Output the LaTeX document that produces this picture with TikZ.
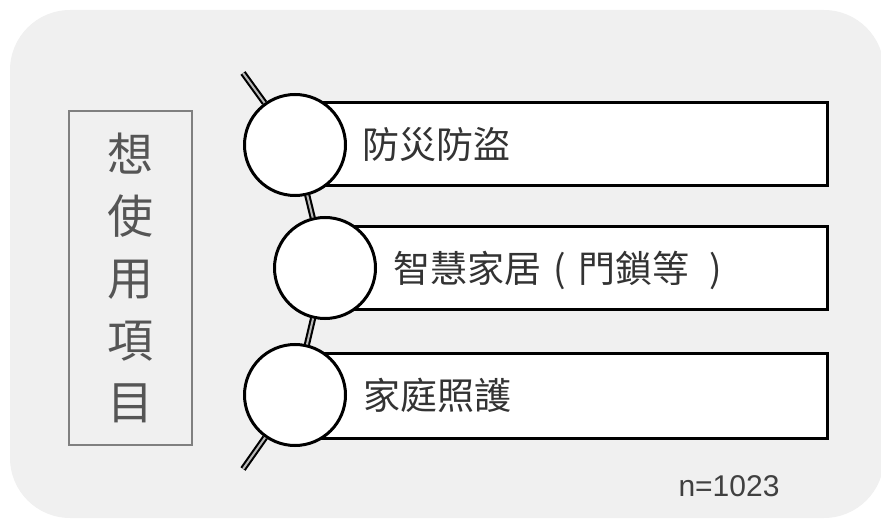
\documentclass[tikz,border=0pt]{standalone}
\usepackage{fontspec}
\newfontfamily\cjk{Noto Sans CJK TC}
\newfontfamily\latin{Liberation Sans}
\definecolor{bgc}{HTML}{F0F0F0}
\definecolor{txtc}{HTML}{333333}
\definecolor{vtxt}{HTML}{555555}
\definecolor{vbox}{HTML}{808080}
\definecolor{ntxt}{HTML}{404040}
\begin{document}
\begin{tikzpicture}[x=1pt,y=-1pt,
  itembox/.style={draw=black,line width=3pt,fill=white,rectangle,inner sep=0pt},
  bead/.style={draw=black,line width=3pt,fill=white,circle,minimum size=101pt,inner sep=0pt},
  spine/.style={draw=black,line width=2.1pt,double=gray!55,double distance=2pt},
  itemtext/.style={font=\cjk\fontsize{37}{37}\selectfont,text=txtc,inner sep=0pt,anchor=west}
]
\useasboundingbox (0,0) rectangle (881,521);
\fill[bgc,rounded corners=60pt] (10,10) rectangle (884,518);
% vertical label
\node[draw=vbox,line width=1.3pt,minimum width=123pt,minimum height=334pt,inner sep=0pt] (lbl) at (130.5,278) {};
\node[font=\cjk\fontsize{46}{62}\selectfont,text=vtxt,align=center,inner sep=0pt] (lbltext) at (130.5,278) {想\\使\\用\\項\\目};
% boxes
\node[itembox,minimum width=532pt,minimum height=83pt] (b1) at (561,144.5) {};
\node[itembox,minimum width=502pt,minimum height=83pt] (b2) at (576,268.5) {};
\node[itembox,minimum width=532pt,minimum height=85pt] (b3) at (561,396) {};
% circles
\node[bead] (c1) at (295,145) {};
\node[bead] (c2) at (325,268) {};
\node[bead] (c3) at (295,395) {};
% spine
\coordinate (top) at (243,73);
\coordinate (bot) at (243,469);
\draw[spine] (top) -- (c1);
\draw[spine] (c1) -- (c2);
\draw[spine] (c2) -- (c3);
\draw[spine] (c3) -- (bot);
% texts
\node[itemtext] (t1) at (362,145) {防災防盜};
\node[itemtext] (t2) at (393,270) {智慧家居\makebox[37pt]{(}門鎖等\hspace{20pt})};
\node[itemtext] (t3) at (363,395) {家庭照護};
\node[font=\latin\fontsize{30}{30}\selectfont,text=ntxt,inner sep=0pt] (n) at (729,486) {n=1023};
\end{tikzpicture}
\end{document}
